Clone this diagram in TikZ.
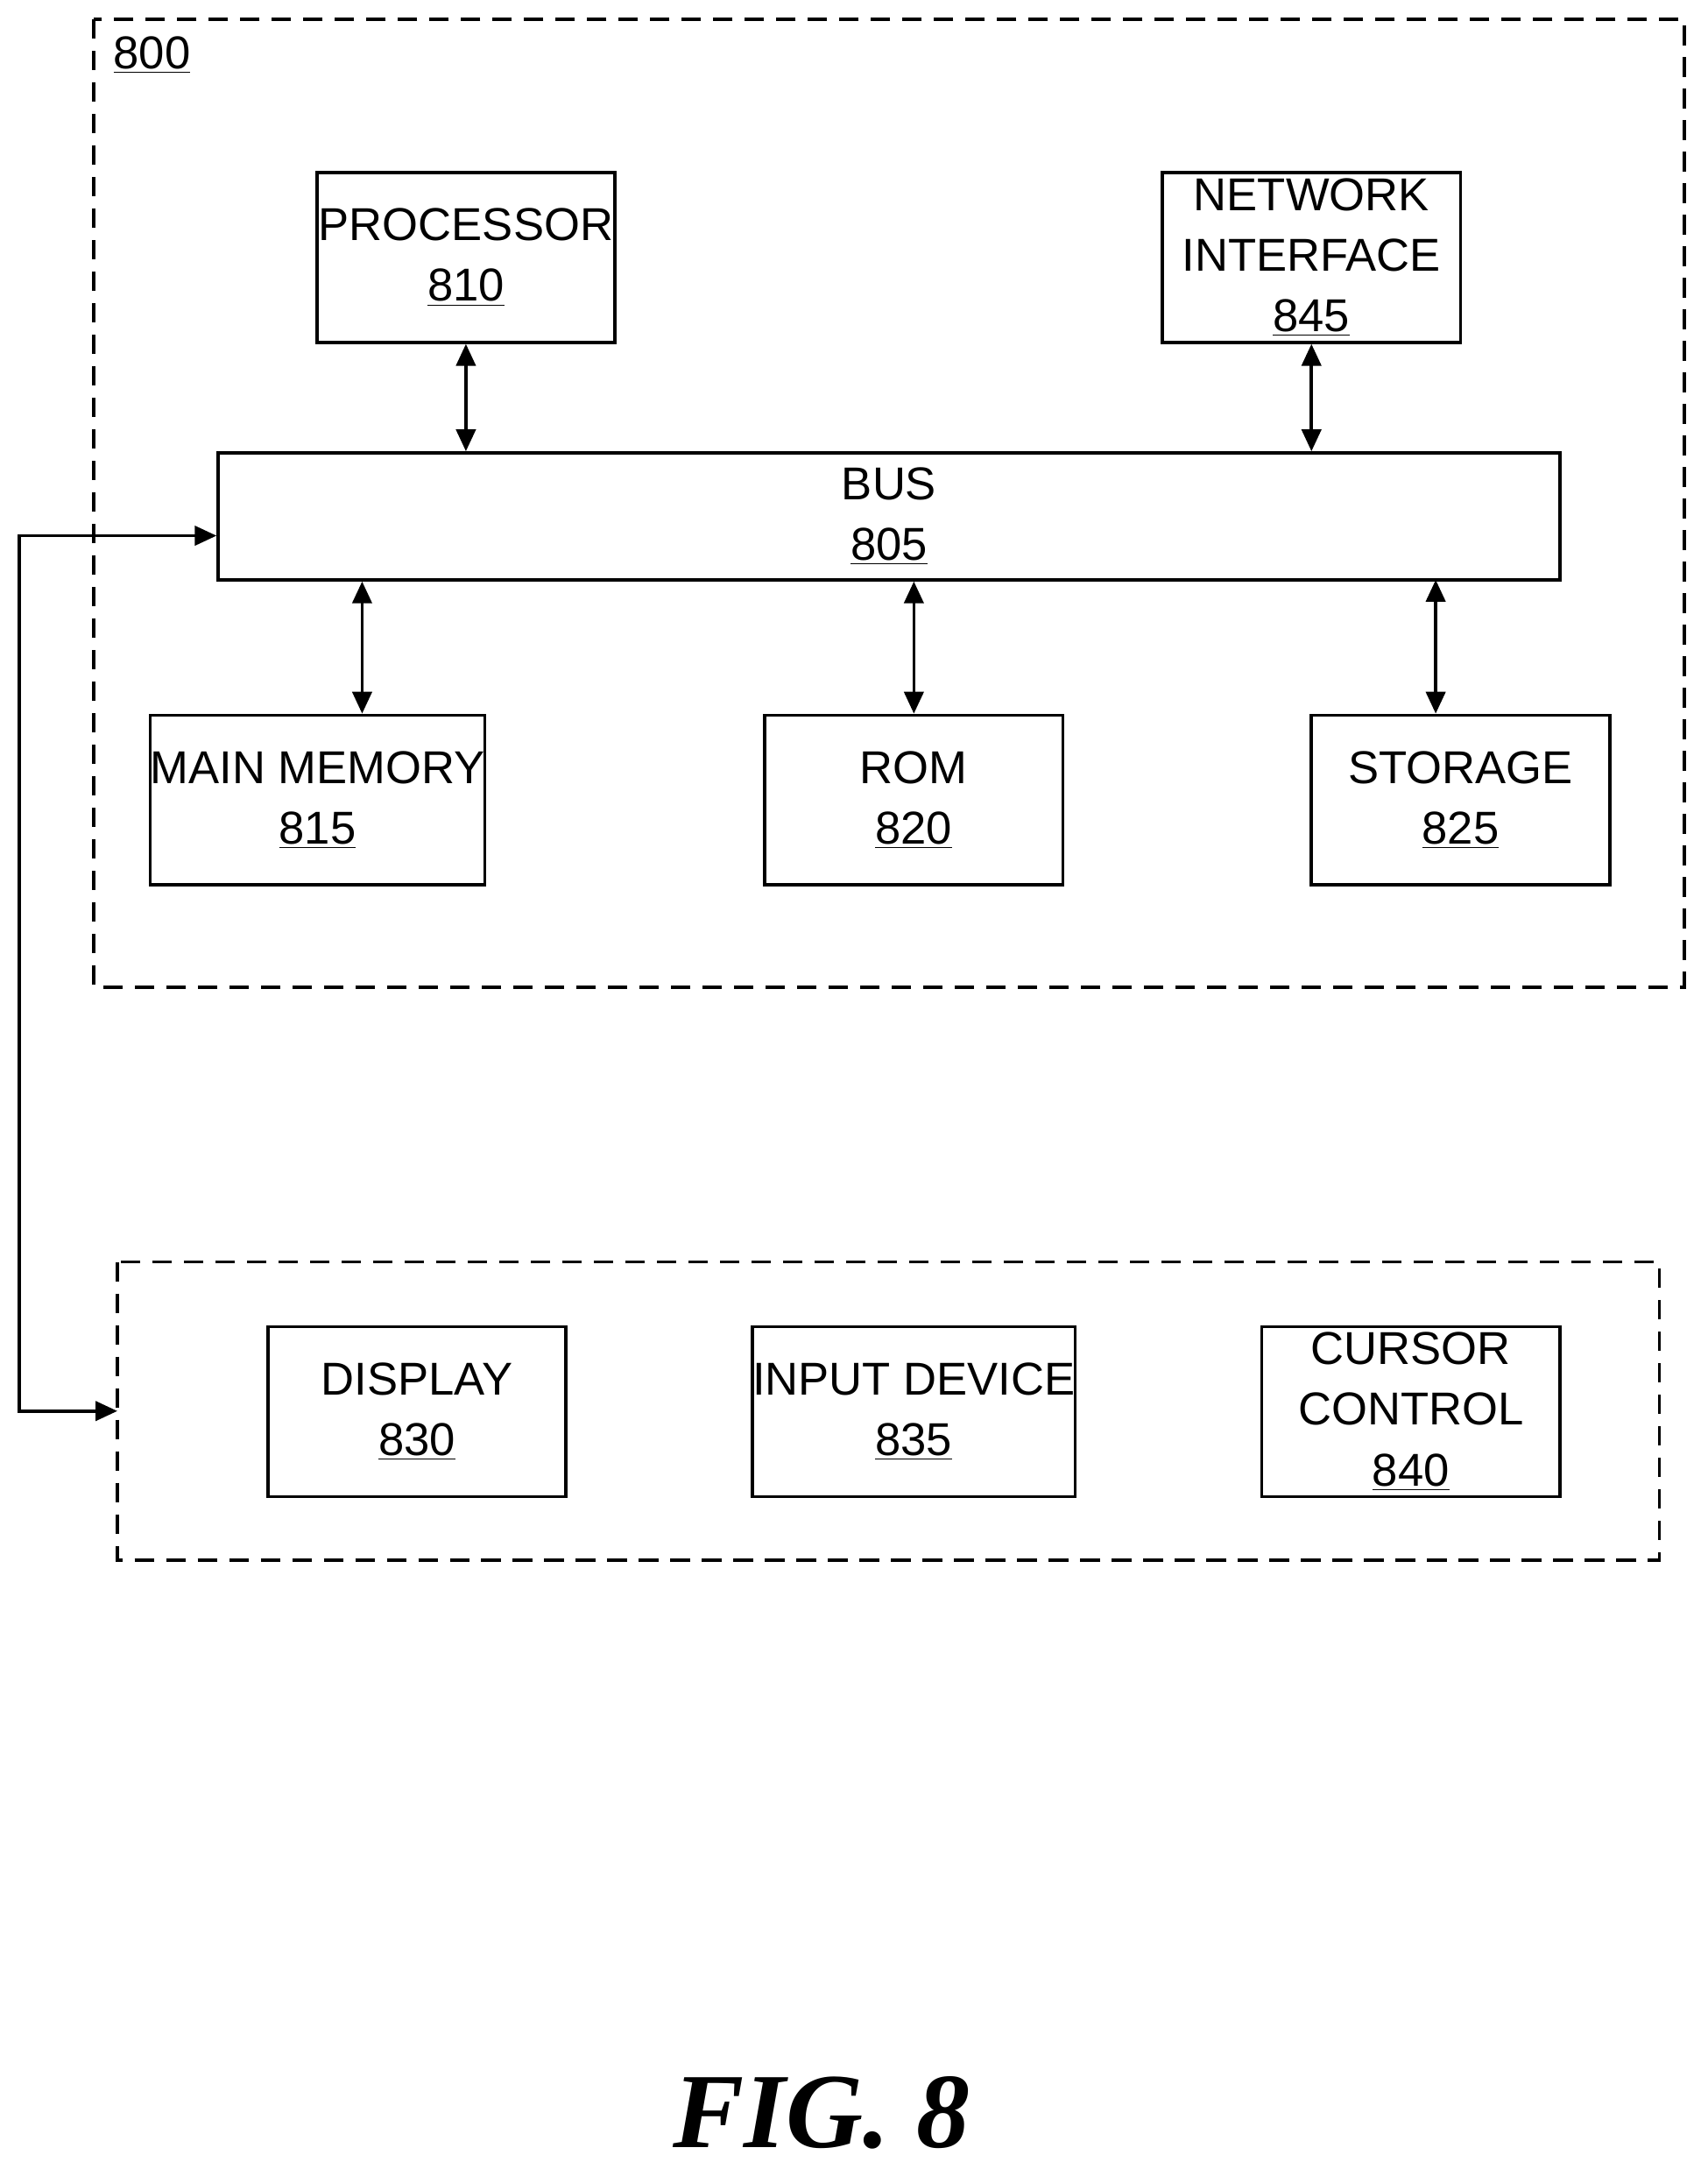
\documentclass[tikz,border=0pt]{standalone}
\usepackage{fontspec}
\setmainfont{Liberation Sans}
\newfontfamily\figfont{Liberation Serif}
\usetikzlibrary{arrows.meta}
\begin{document}
\begin{tikzpicture}[x=0.02cm,y=-0.02cm,
  box/.style={draw,line width=1.3pt,minimum width=216*0.02cm,minimum height=123*0.02cm,align=center,inner sep=0pt,font=\fontsize{19}{25}\selectfont},
  dbox/.style={draw,dashed,line width=1.3pt,dash pattern=on 8pt off 5pt},
  arr/.style={line width=1.3pt,{Triangle[length=9pt,width=8pt]}-{Triangle[length=9pt,width=8pt]}}]
\useasboundingbox (0,0) rectangle (1237,1571);
\draw[dbox] (68,14) rectangle (1220,715);
\node[anchor=west,font=\fontsize{19}{25}\selectfont] (l800) at (76,40) {\underline{800}};
\node[box] (p) at (337.5,186.5) {PROCESSOR\\\underline{810}};
\node[box] (n) at (950,186.5) {NETWORK\\INTERFACE\\\underline{845}};
\node[box,minimum width=972*0.02cm,minimum height=92*0.02cm] (bus) at (644,374) {BUS\\\underline{805}};
\node[box] (m) at (230,579.5) {MAIN MEMORY\\\underline{815}};
\node[box] (r) at (662,579.5) {ROM\\\underline{820}};
\node[box] (s) at (1058,579.5) {STORAGE\\\underline{825}};
\draw[arr] (p.south) -- (p.south |- bus.north);
\draw[arr] (n.south) -- (n.south |- bus.north);
\draw[arr] (bus.south -| m.north east) ++(-90,0) coordinate (ma) -- (ma |- m.north);
\draw[arr] (r.north |- bus.south) -- (r.north);
\draw[arr] (1040,420) coordinate (sa) -- (sa |- s.north);
\draw[dbox] (85,914) rectangle (1202,1130);
\coordinate (lb) at (85,1022);
\node[box] (d) at (302,1022.5) {DISPLAY\\\underline{830}};
\node[box] (i) at (662,1022.5) {INPUT DEVICE\\\underline{835}};
\node[box] (c) at (1022,1022.5) {CURSOR\\CONTROL\\\underline{840}};
\draw[arr] (bus.west |- 0,388) -- (14,388) -- (14,1022) -- (lb);
\node[font=\figfont\bfseries\itshape\fontsize{44}{50}\selectfont] (fig) at (595,1530) {FIG. 8};
\end{tikzpicture}
\end{document}
